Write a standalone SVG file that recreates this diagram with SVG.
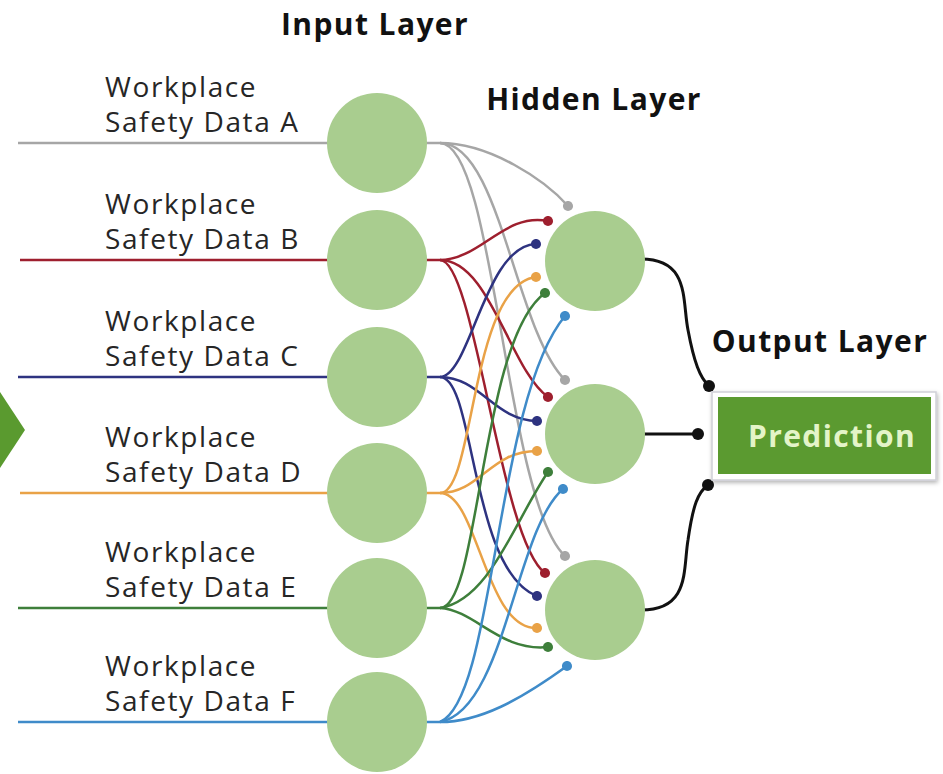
<svg xmlns="http://www.w3.org/2000/svg" width="943" height="774" viewBox="0 0 943 774">
<style>
.lbl{font-family:"Open Sans","Noto Sans",sans-serif;font-size:28px;letter-spacing:1.6px;fill:#262626}
.hd{font-family:"Open Sans","Noto Sans",sans-serif;font-size:30px;font-weight:700;letter-spacing:1.4px;fill:#111;text-anchor:middle}
.node{fill:#a9cd8f}
.c{fill:none;stroke-width:2.5}
.gray{stroke:#a6a6a6}.red{stroke:#9e1f2e}.navy{stroke:#2e3380}.orange{stroke:#e9a247}.green{stroke:#3e7f3b}.blue{stroke:#3f8bc9}
.blk{fill:none;stroke:#111;stroke-width:3}
</style>
<defs>
<marker id="m-gray" viewBox="0 0 12 12" refX="6" refY="6" markerWidth="11" markerHeight="11" markerUnits="userSpaceOnUse"><circle cx="6" cy="6" r="5.5" fill="#a6a6a6"/></marker>
<marker id="m-red" viewBox="0 0 12 12" refX="6" refY="6" markerWidth="11" markerHeight="11" markerUnits="userSpaceOnUse"><circle cx="6" cy="6" r="5.5" fill="#9e1f2e"/></marker>
<marker id="m-navy" viewBox="0 0 12 12" refX="6" refY="6" markerWidth="11" markerHeight="11" markerUnits="userSpaceOnUse"><circle cx="6" cy="6" r="5.5" fill="#2e3380"/></marker>
<marker id="m-orange" viewBox="0 0 12 12" refX="6" refY="6" markerWidth="11" markerHeight="11" markerUnits="userSpaceOnUse"><circle cx="6" cy="6" r="5.5" fill="#e9a247"/></marker>
<marker id="m-green" viewBox="0 0 12 12" refX="6" refY="6" markerWidth="11" markerHeight="11" markerUnits="userSpaceOnUse"><circle cx="6" cy="6" r="5.5" fill="#3e7f3b"/></marker>
<marker id="m-blue" viewBox="0 0 12 12" refX="6" refY="6" markerWidth="11" markerHeight="11" markerUnits="userSpaceOnUse"><circle cx="6" cy="6" r="5.5" fill="#3f8bc9"/></marker>
<marker id="m-blk" viewBox="0 0 12 12" refX="6" refY="6" markerWidth="12" markerHeight="12" markerUnits="userSpaceOnUse"><circle cx="6" cy="6" r="6" fill="#111"/></marker>
<filter id="sh" x="-10%" y="-20%" width="120%" height="140%"><feDropShadow dx="1" dy="2" stdDeviation="2" flood-color="#000" flood-opacity="0.3"/></filter>
</defs>
<rect width="943" height="774" fill="#fff"/>

<g id="arrow-in"><polygon points="0,392 25,430 0,468" fill="#5a9a2f"/></g>

<g id="connectors">
<path class="c gray" d="M18,143 H440"/>
<path class="c red" d="M20,260 H440"/>
<path class="c navy" d="M18,377 H440"/>
<path class="c orange" d="M20,493 H440"/>
<path class="c green" d="M18,608 H440"/>
<path class="c blue" d="M18,722 H440"/>

<path class="c gray" marker-end="url(#m-gray)" d="M440,143 C490,143 545,180 568,206"/>
<path class="c gray" marker-end="url(#m-gray)" d="M440,143 C500,143 515,330 565,380"/>
<path class="c gray" marker-end="url(#m-gray)" d="M440,143 C495,143 505,500 565,556"/>

<path class="c red" marker-end="url(#m-red)" d="M440,260 C480,260 505,212 548,221"/>
<path class="c red" marker-end="url(#m-red)" d="M440,260 C490,260 510,370 548,397"/>
<path class="c red" marker-end="url(#m-red)" d="M440,260 C475,260 500,540 545,573"/>

<path class="c navy" marker-end="url(#m-navy)" d="M440,377 C470,377 485,245 536,244"/>
<path class="c navy" marker-end="url(#m-navy)" d="M440,377 C480,377 495,421 537,421"/>
<path class="c navy" marker-end="url(#m-navy)" d="M440,377 C475,377 470,570 537,596"/>

<path class="c orange" marker-end="url(#m-orange)" d="M440,493 C475,493 470,285 536,277"/>
<path class="c orange" marker-end="url(#m-orange)" d="M440,493 C480,493 490,451 537,451"/>
<path class="c orange" marker-end="url(#m-orange)" d="M440,493 C478,493 485,630 537,628"/>

<path class="c green" marker-end="url(#m-green)" d="M440,608 C480,608 480,340 545,293"/>
<path class="c green" marker-end="url(#m-green)" d="M440,608 C490,600 515,520 548,472"/>
<path class="c green" marker-end="url(#m-green)" d="M440,608 C475,610 500,652 548,647"/>

<path class="c blue" marker-end="url(#m-blue)" d="M440,722 C495,700 495,400 565,316"/>
<path class="c blue" marker-end="url(#m-blue)" d="M440,722 C505,710 515,530 563,489"/>
<path class="c blue" marker-end="url(#m-blue)" d="M440,722 C480,722 520,700 567,666"/>

<path class="blk" marker-end="url(#m-blk)" d="M641,259 C690,259 682,300 688,330 C694,362 700,378 709,386"/>
<path class="blk" marker-end="url(#m-blk)" d="M643,434 H698"/>
<path class="blk" marker-end="url(#m-blk)" d="M641,610 C690,610 683,570 688,540 C693,505 698,492 708,485"/>
</g>

<g id="input-A"><circle class="node" cx="377" cy="143" r="50"/><text class="lbl" x="105" y="97">Workplace</text><text class="lbl" x="105" y="132">Safety Data A</text></g>
<g id="input-B"><circle class="node" cx="377" cy="260" r="50"/><text class="lbl" x="105" y="214">Workplace</text><text class="lbl" x="105" y="249">Safety Data B</text></g>
<g id="input-C"><circle class="node" cx="377" cy="377" r="50"/><text class="lbl" x="105" y="331">Workplace</text><text class="lbl" x="105" y="366">Safety Data C</text></g>
<g id="input-D"><circle class="node" cx="377" cy="493" r="50"/><text class="lbl" x="105" y="447">Workplace</text><text class="lbl" x="105" y="482">Safety Data D</text></g>
<g id="input-E"><circle class="node" cx="377" cy="608" r="50"/><text class="lbl" x="105" y="562">Workplace</text><text class="lbl" x="105" y="597">Safety Data E</text></g>
<g id="input-F"><circle class="node" cx="377" cy="722" r="50"/><text class="lbl" x="105" y="676">Workplace</text><text class="lbl" x="105" y="711">Safety Data F</text></g>

<g id="hidden-1"><circle class="node" cx="595" cy="261" r="50"/></g>
<g id="hidden-2"><circle class="node" cx="595" cy="434" r="50"/></g>
<g id="hidden-3"><circle class="node" cx="595" cy="610" r="50"/></g>

<g id="output"><rect x="712" y="392" width="224" height="88" fill="#fff" stroke="#d0d0d8" stroke-width="1.5" filter="url(#sh)"/><rect x="718" y="397" width="213" height="77" fill="#5b9a30"/><text x="832" y="447" style="font-family:'Open Sans','Noto Sans',sans-serif;font-size:30px;font-weight:700;letter-spacing:1.4px;fill:#e4f4c8;text-anchor:middle">Prediction</text></g>

<g id="titles">
<text class="hd" x="375" y="35">Input Layer</text>
<text class="hd" x="594" y="110">Hidden Layer</text>
<text class="hd" x="820" y="352">Output Layer</text>
</g>
</svg>
